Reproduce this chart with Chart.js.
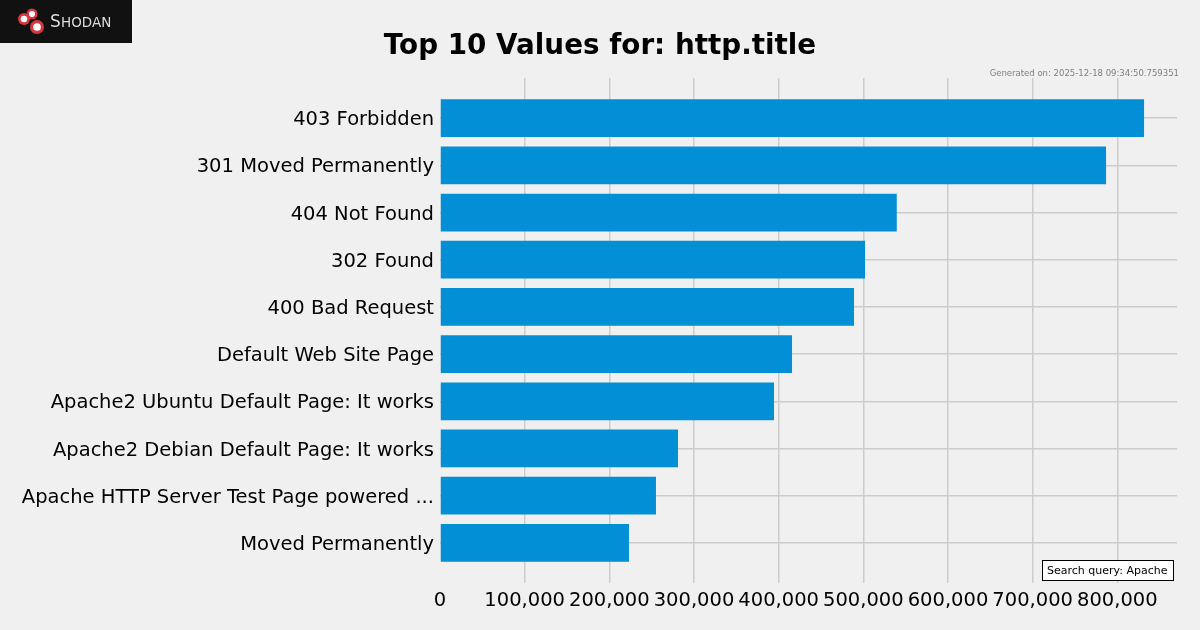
<!DOCTYPE html>
<html lang="en">
<head>
<meta charset="UTF-8">
<title>Top 10 Values for: http.title</title>
<script src="https://cdn.jsdelivr.net/npm/chart.js"></script>
<style>
  html, body { margin: 0; padding: 0; background: #f0f0f0; }
  #wrap { width: 1200px; height: 630px; position: relative; }
</style>
</head>
<body>
<div id="wrap"><canvas id="chart" width="1200" height="630"></canvas></div>
<script>
// data
const titles = [
  "403 Forbidden",
  "301 Moved Permanently",
  "404 Not Found",
  "302 Found",
  "400 Bad Request",
  "Default Web Site Page",
  "Apache2 Ubuntu Default Page: It works",
  "Apache2 Debian Default Page: It works",
  "Apache HTTP Server Test Page powered ...",
  "Moved Permanently"
];
const counts = [831600, 786700, 539500, 502000, 489000, 415800, 394500, 281100, 255100, 223200];
const xTicks = [0, 100000, 200000, 300000, 400000, 500000, 600000, 700000, 800000];

const FONT = "'DejaVu Sans', sans-serif";

// title, logo, timestamp and query box
const decor = {
  id: 'decor',
  beforeDraw(chart) {
    const c = chart.ctx;
    c.save();
    c.fillStyle = '#f0f0f0';
    c.fillRect(0, 0, chart.width, chart.height);
    c.restore();
  },
  afterDraw(chart) {
    const c = chart.ctx;
    c.save();
    // logo
    c.fillStyle = '#111111';
    c.fillRect(0, 0, 132, 43);
    [[24, 19, 6], [32, 14, 5.5], [37, 27, 7]].forEach(([x, y, r]) => {
      c.beginPath();
      c.arc(x, y, r, 0, Math.PI * 2);
      c.fillStyle = '#d9353f';
      c.fill();
      c.beginPath();
      c.arc(x, y, r * 0.55, 0, Math.PI * 2);
      c.fillStyle = '#ffffff';
      c.fill();
    });
    c.fillStyle = '#dddddd';
    c.textBaseline = 'alphabetic';
    c.font = '17px ' + FONT;
    c.fillText('S', 50, 27);
    c.font = '13.5px ' + FONT;
    c.fillText('HODAN', 61, 27);

    // title
    c.fillStyle = '#000000';
    c.font = 'bold 27.8px ' + FONT;
    c.textAlign = 'center';
    c.textBaseline = 'middle';
    c.fillText('Top 10 Values for: http.title', 600, 47);

    // timestamp
    c.fillStyle = '#808080';
    c.font = '8.5px ' + FONT;
    c.textAlign = 'right';
    c.fillText('Generated on: 2025-12-18 09:34:50.759351', 1179, 74);

    // query box
    c.fillStyle = '#ffffff';
    c.fillRect(1042.5, 560.5, 131, 20);
    c.strokeStyle = '#000000';
    c.lineWidth = 1;
    c.strokeRect(1042.5, 560.5, 131, 20);
    c.fillStyle = '#000000';
    c.font = '11px ' + FONT;
    c.textAlign = 'left';
    c.fillText('Search query: Apache', 1047, 571);
    c.restore();
  }
};

const ctx = document.getElementById('chart').getContext('2d');
const chart = new Chart(ctx, {
  type: 'bar',
  data: {
    datasets: [{
      data: counts.map((v, i) => ({ x: v, y: i })),
      backgroundColor: '#028fd6',
      borderWidth: 0,
      barPercentage: 0.8,
      categoryPercentage: 1
    }]
  },
  plugins: [decor],
  options: {
    indexAxis: 'y',
    responsive: false,
    animation: false,
    devicePixelRatio: 1,
    layout: { padding: { top: 78, right: 23, left: 0, bottom: 0 } },
    plugins: {
      legend: { display: false },
      tooltip: { enabled: false }
    },
    scales: {
      x: {
        type: 'linear',
        min: 0,
        max: 870500,
        border: { display: false },
        grid: {
          color: c => c.tick && c.tick.value === 0 ? 'rgba(0,0,0,0)' : '#cccccc',
          lineWidth: 1.5,
          drawTicks: false
        },
        afterBuildTicks: s => { s.ticks = xTicks.map(v => ({ value: v })); },
        afterFit: s => { s.height = 47; },
        ticks: {
          padding: 6,
          color: '#000000',
          font: { family: FONT, size: 19.5 },
          maxRotation: 0,
          autoSkip: false,
          callback: v => v.toLocaleString('en-US')
        }
      },
      y: {
        type: 'linear',
        min: -0.85,
        max: 9.85,
        reverse: true,
        offset: false,
        border: { display: false },
        grid: { color: '#cccccc', lineWidth: 1.5, drawTicks: false, offset: false },
        afterBuildTicks: s => { s.ticks = titles.map((t, i) => ({ value: i })); },
        afterFit: s => { s.width = 440; },
        ticks: {
          padding: 6,
          labelOffset: 2,
          color: '#000000',
          font: { family: FONT, size: 19.5 },
          autoSkip: false,
          callback: v => titles[v]
        }
      }
    }
  }
});
</script>
</body>
</html>
